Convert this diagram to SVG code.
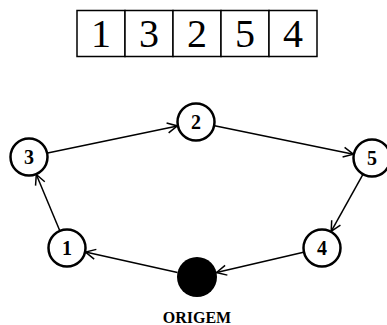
<svg xmlns="http://www.w3.org/2000/svg" width="387" height="325" viewBox="0 0 387 325">
<style>
.cell{fill:#fff;stroke:#000;stroke-width:1.5}
.arr{font-family:"Liberation Serif","Times New Roman",serif;font-size:40px;fill:#000;text-anchor:middle}
.node circle{fill:#fff;stroke:#000;stroke-width:2.5}
.node text{font-family:"Liberation Serif","Times New Roman",serif;font-weight:bold;font-size:20px;fill:#000;text-anchor:middle}
.edge{fill:none;stroke:#000;stroke-width:1.5;marker-end:url(#ah)}
.lbl{font-family:"Liberation Serif","Times New Roman",serif;font-weight:bold;font-size:16px;fill:#000;text-anchor:middle}
</style>
<defs>
<marker id="ah" markerUnits="userSpaceOnUse" markerWidth="12" markerHeight="12" refX="10" refY="5" orient="auto" overflow="visible">
<path d="M0,0 L10,5 L0,10" fill="none" stroke="#000" stroke-width="1.5"/>
</marker>
</defs>
<g id="array">
<rect class="cell" x="77" y="10.5" width="48" height="46"/>
<rect class="cell" x="125" y="10.5" width="48" height="46"/>
<rect class="cell" x="173" y="10.5" width="48" height="46"/>
<rect class="cell" x="221" y="10.5" width="48" height="46"/>
<rect class="cell" x="269" y="10.5" width="48" height="46"/>
<text class="arr" x="101" y="47">1</text>
<text class="arr" x="149" y="47">3</text>
<text class="arr" x="197" y="47">2</text>
<text class="arr" x="245" y="47">5</text>
<text class="arr" x="293" y="47">4</text>
</g>
<g id="connectors">
<line class="edge" x1="47.6" y1="153.1" x2="177.4" y2="125.9"/>
<line class="edge" x1="214.6" y1="125.8" x2="353.4" y2="154.2"/>
<line class="edge" x1="362.8" y1="174.6" x2="331.2" y2="231.4"/>
<line class="edge" x1="303.5" y1="252.3" x2="216.5" y2="272.5"/>
<line class="edge" x1="177.5" y1="272.6" x2="85.5" y2="252.1"/>
<line class="edge" x1="59.7" y1="230.5" x2="36.3" y2="174.5"/>
</g>
<g id="n3" class="node"><circle cx="29" cy="157" r="18.5"/><text x="29" y="164">3</text></g>
<g id="n2" class="node"><circle cx="196" cy="122" r="18.5"/><text x="196" y="129">2</text></g>
<g id="n5" class="node"><circle cx="372" cy="158" r="18.5"/><text x="372" y="165">5</text></g>
<g id="n1" class="node"><circle cx="67" cy="248" r="18.5"/><text x="67" y="255">1</text></g>
<g id="n4" class="node"><circle cx="322" cy="248" r="18.5"/><text x="322" y="255">4</text></g>
<g id="origem"><circle cx="197" cy="277" r="20" fill="#000"/><text class="lbl" x="197" y="323">ORIGEM</text></g>
</svg>
